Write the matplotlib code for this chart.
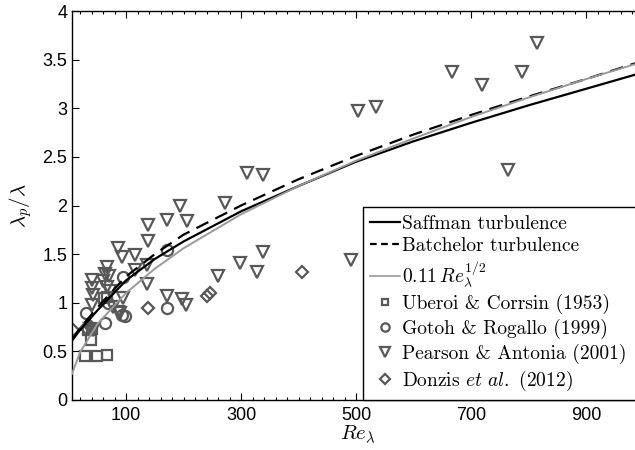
"""Particle/fluid length-scale ratio against Taylor Reynolds number."""

import matplotlib

matplotlib.use("Agg")
import matplotlib.pyplot as plt
from matplotlib.ticker import MultipleLocator

plt.rcParams["mathtext.fontset"] = "cm"
plt.rcParams["axes.unicode_minus"] = False

# model curves
curve_re = [6, 20, 50, 100, 150, 200, 300, 400, 500, 600, 700, 800, 900, 1000]
saffman = [0.61, 0.72, 0.92, 1.23, 1.45, 1.63, 1.94, 2.20, 2.45, 2.66, 2.85, 3.03, 3.20, 3.37]
batchelor = [0.62, 0.74, 0.95, 1.27, 1.50, 1.70, 2.00, 2.27, 2.51, 2.73, 2.93, 3.12, 3.30, 3.49]
fit_half = [0.27, 0.49, 0.78, 1.10, 1.35, 1.56, 1.91, 2.20, 2.46, 2.69, 2.91, 3.11, 3.30, 3.48]

# Uberoi & Corrsin (1953)
uc_re = [29, 50, 67, 39, 33, 41, 62, 67]
uc_val = [0.45, 0.45, 0.46, 0.62, 0.72, 0.73, 1.05, 1.06]

# Gotoh & Rogallo (1999)
gr_re = [30, 63, 69, 95, 93, 98, 171, 171]
gr_val = [0.89, 0.79, 1.00, 1.26, 0.87, 0.86, 1.54, 0.95]

# Pearson & Antonia (2001)
pa_re = [41, 41, 43, 41, 38, 43, 67, 63, 70, 60, 67, 72, 77, 86, 95, 90,
         86, 93, 116, 136, 116, 136, 138, 138, 171, 194, 206, 171, 197, 204,
         260, 272, 298, 310, 328, 338, 338, 491, 503, 535, 667, 719, 764, 789, 815]
pa_val = [1.23, 1.15, 1.08, 0.98, 0.73, 0.72, 1.37, 1.30, 1.27, 1.22, 1.16, 1.12, 0.96, 0.90, 1.05, 0.89,
          1.56, 1.47, 1.49, 1.39, 1.34, 1.19, 1.80, 1.63, 1.85, 2.00, 1.84, 1.07, 1.04, 0.98,
          1.28, 2.03, 1.41, 2.33, 1.32, 2.31, 1.52, 1.44, 2.97, 3.01, 3.37, 3.24, 2.36, 3.37, 3.67]

# Donzis et al. (2012)
dz_re = [8, 30, 38, 138, 241, 246, 406]
dz_val = [0.72, 0.74, 0.76, 0.95, 1.07, 1.10, 1.32]

MARKER_EDGE = "#585858"


def main() -> None:
    fig = plt.figure(figsize=(6.35, 4.5), dpi=100)
    ax = fig.add_axes([72 / 635, 50 / 450, (643.5 - 72) / 635, 389 / 450])

    marker_kw = dict(linestyle="none", markerfacecolor="none",
                     markeredgecolor=MARKER_EDGE, markeredgewidth=1.6)
    ax.plot(uc_re, uc_val, marker="s", markersize=7, zorder=2, **marker_kw)
    ax.plot(gr_re, gr_val, marker="o", markersize=8, zorder=2, **marker_kw)
    ax.plot(pa_re, pa_val, marker="v", markersize=9, zorder=2, **marker_kw)
    ax.plot(dz_re, dz_val, marker="D", markersize=6.5, zorder=2, **marker_kw)

    ax.plot(curve_re, saffman, color="black", lw=1.6, zorder=3)
    ax.plot(curve_re, batchelor, color="black", lw=1.6, dashes=(6, 3.5), zorder=3)
    ax.plot(curve_re, fit_half, color="#999999", lw=1.4, zorder=3)

    ax.set_xlim(6, 1000)
    ax.set_ylim(0, 4)
    ax.xaxis.set_major_locator(MultipleLocator(200, offset=100))
    ax.xaxis.set_minor_locator(MultipleLocator(20))
    ax.yaxis.set_major_locator(MultipleLocator(0.5))
    ax.yaxis.set_major_formatter(plt.FuncFormatter(lambda v, _: f"{v:g}"))
    ax.tick_params(which="both", direction="in", top=True, right=True,
                   labelsize=13, width=0.8)
    ax.tick_params(which="major", length=5)
    ax.tick_params(which="minor", length=2.5)
    ax.tick_params(axis="x", pad=5)
    for lab in ax.get_xticklabels() + ax.get_yticklabels():
        lab.set_family("Liberation Sans")
    for sp in ax.spines.values():
        sp.set_linewidth(1.0)

    ax.set_xlabel(r"$Re_\lambda$", fontsize=15, labelpad=0)
    ax.set_ylabel(r"$\lambda_p/\lambda$", fontsize=15, labelpad=6)

    handles = [
        plt.Line2D([], [], color="black", lw=1.6),
        plt.Line2D([], [], color="black", lw=1.6, dashes=(3, 2)),
        plt.Line2D([], [], color="#999999", lw=1.2),
        plt.Line2D([], [], marker="s", markersize=5, **marker_kw),
        plt.Line2D([], [], marker="o", markersize=6, **marker_kw),
        plt.Line2D([], [], marker="v", markersize=7, **marker_kw),
        plt.Line2D([], [], marker="D", markersize=5, **marker_kw),
    ]
    labels = [
        "Saffman turbulence",
        "Batchelor turbulence",
        r"$0.11\,Re_\lambda^{1/2}$",
        "Uberoi & Corrsin (1953)",
        "Gotoh & Rogallo (1999)",
        "Pearson & Antonia (2001)",
        r"Donzis $\mathit{et\ al.}$ (2012)",
    ]
    # legend runs past the right edge of the figure, as in the original
    leg = ax.legend(handles, labels, loc="lower left", mode="expand",
                    bbox_to_anchor=((363 - 72) / (643.5 - 72), 0, 0.6, 0.4),
                    borderaxespad=0, fancybox=False, framealpha=1,
                    edgecolor="black", handlelength=1.5, handletextpad=0.15,
                    labelspacing=0.24, borderpad=0.38,
                    prop={"family": "cmr10", "size": 14})
    leg.get_frame().set_linewidth(1.0)
    leg.set_zorder(5)

    fig.savefig("out.png", dpi=100)
    plt.close(fig)


if __name__ == "__main__":
    main()
